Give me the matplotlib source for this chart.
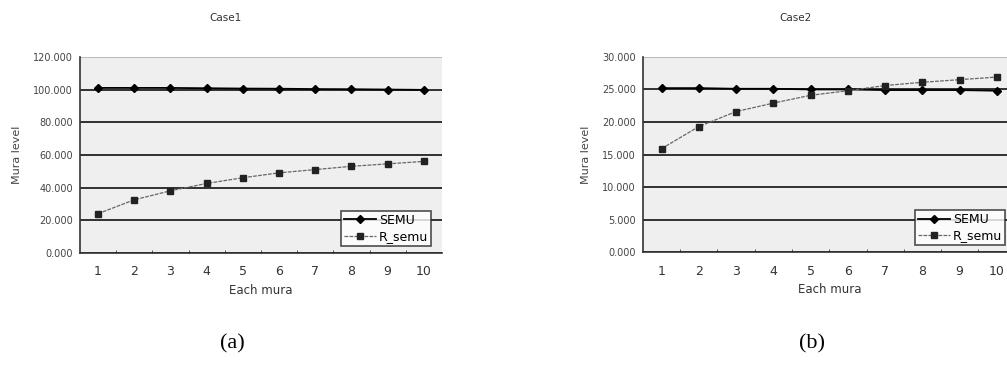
import matplotlib.pyplot as plt
from matplotlib.ticker import FormatStrFormatter

# dados
mura = list(range(1, 11))
case1_semu = [101.0, 101.0, 101.0, 100.8, 100.6, 100.5, 100.3, 100.2, 100.0, 99.8]
case1_rsemu = [24.0, 32.5, 38.0, 42.5, 46.0, 49.0, 51.0, 53.0, 54.5, 56.0]
case2_semu = [25.2, 25.2, 25.1, 25.1, 25.0, 25.0, 24.9, 24.9, 24.9, 24.8]
case2_rsemu = [15.9, 19.3, 21.6, 22.9, 24.1, 24.8, 25.6, 26.1, 26.5, 26.9]

titles = ["Case1", "Case2"]
ymax = [120, 30]
ystep = [20, 5]
panel_labels = ["(a)", "(b)"]

fig = plt.figure(figsize=(10.07, 3.67), dpi=100)
ax1 = fig.add_axes([0.0794, 0.311, 0.3595, 0.534])
ax2 = fig.add_axes([0.6385, 0.313, 0.370, 0.532])

series = [(case1_semu, case1_rsemu), (case2_semu, case2_rsemu)]
title_x = [226 / 1007, 796 / 1007]
leg_x = [0.97, 0.972]
for i, ax in enumerate([ax1, ax2]):
    semu, rsemu = series[i]
    ax.set_facecolor("#efefef")
    ax.set_xlim(0.5, 10.5)
    ax.set_ylim(0, ymax[i])
    ax.set_yticks(range(0, ymax[i] + 1, ystep[i]))
    ax.yaxis.set_major_formatter(FormatStrFormatter("%.3f"))
    ax.set_xticks(mura)
    ax.set_xticks([x + 0.5 for x in mura[:-1]], minor=True)
    ax.grid(axis="y", color="#222222", linewidth=1.3)
    ax.get_ygridlines()[-1].set_color("#bbbbbb")
    ax.get_ygridlines()[-1].set_linewidth(0.8)
    ax.set_axisbelow(True)
    for s in ["top", "right"]:
        ax.spines[s].set_visible(False)
    ax.spines["left"].set_color("#333333")
    ax.spines["bottom"].set_color("#333333")
    ax.spines["left"].set_linewidth(1.2)
    ax.spines["bottom"].set_linewidth(1.2)
    ax.tick_params(axis="x", which="major", length=0, labelsize=9, pad=9, colors="#333333")
    ax.tick_params(axis="x", which="minor", length=2.5, direction="in", color="#333333")
    ax.tick_params(axis="y", length=0, labelsize=7, pad=5, colors="#444444")

    ax.plot(mura, semu, color="black", linewidth=1.3, marker="D", markersize=4,
            label="SEMU")
    ax.plot(mura, rsemu, color="#666666", linewidth=0.9, linestyle=(0, (3, 1)),
            marker="s", markersize=4.5, markerfacecolor="#222222",
            markeredgecolor="#222222", label="R_semu")

    fig.text(title_x[i], 0.95, titles[i], fontsize=7.5, color="#333333",
             ha="center", va="center")
    ax.set_xlabel("Each mura", fontsize=8.5, color="#333333", labelpad=4)
    ax.set_ylabel("Mura level", fontsize=8, color="#444444", labelpad=8)

    leg = ax.legend(loc="lower right", bbox_to_anchor=(leg_x[i], 0.035),
                    fontsize=9, frameon=True, fancybox=False, handlelength=2.6,
                    handletextpad=0.2, borderpad=0.25, labelspacing=0.25,
                    borderaxespad=0.0)
    leg.get_frame().set_edgecolor("#222222")
    leg.get_frame().set_linewidth(1.2)
    leg.get_frame().set_facecolor("white")

    fig.text(0.231 if i == 0 else 0.806, 0.063, panel_labels[i],
             fontsize=16, family="Liberation Serif", ha="center", va="center")

plt.savefig("out.png", dpi=100)
